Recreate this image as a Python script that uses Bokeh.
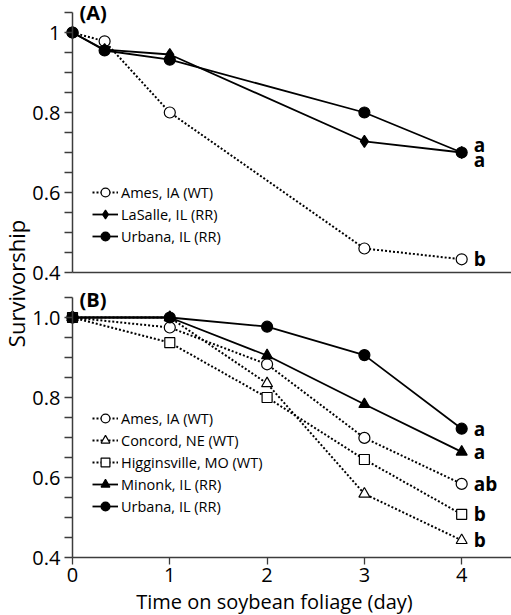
import math
from bokeh.plotting import figure
from bokeh.models import (Label, FixedTicker, Range1d, Legend, LegendItem,
                          PrintfTickFormatter, ColumnDataSource, LinearAxis)
from bokeh.embed import file_html
from bokeh.resources import INLINE
from bokeh.core.properties import value

# ---------------- data ----------------
days_a = [0, 0.33, 1, 3, 4]
ames_a = [1.0, 0.978, 0.80, 0.46, 0.433]
lasalle_a = [1.0, 0.957, 0.945, 0.728, 0.70]
urbana_a = [1.0, 0.955, 0.932, 0.80, 0.70]

days_b = [0, 1, 2, 3, 4]
ames_b = [1.0, 0.975, 0.883, 0.699, 0.584]
concord_b = [1.0, 1.0, 0.835, 0.559, 0.443]
higg_b = [1.0, 0.937, 0.80, 0.645, 0.508]
minonk_b = [1.0, 1.0, 0.905, 0.783, 0.664]
urbana_b = [1.0, 1.0, 0.977, 0.906, 0.722]

names_a = ["Ames, IA (WT)", "LaSalle, IL (RR)", "Urbana, IL (RR)"]
names_b = ["Ames, IA (WT)", "Concord, NE (WT)", "Higginsville, MO (WT)",
           "Minonk, IL (RR)", "Urbana, IL (RR)"]
letters_a = ["b", "a", "a"]
letters_b = ["ab", "b", "b", "a", "a"]

x_ticks = [0, 1, 2, 3, 4]
y_major_ticks = [0.4, 0.6, 0.8, 1.0]
y_minor_ticks = [0.45, 0.5, 0.55, 0.65, 0.7, 0.75, 0.85, 0.9, 0.95, 1.05]
x_title = "Time on soybean foliage (day)"
y_title = "Survivorship"

FONT = "Open Sans"
AX = "#3c3c3c"
# axis windows (both panels share the same scale; panel A stacked above B)
X_START, X_END = -0.740, 4.512
YB_START, YB_END = 0.255, 1.7925
YA_START, YA_END = -0.4575, 1.08
AXIS_LO, AXIS_HI = 0.4, 1.05
X_TITLE_CENTER = 2.076

p = figure(width=511, height=615, x_range=Range1d(X_START, X_END),
           y_range=Range1d(YB_START, YB_END), x_axis_type=None,
           y_axis_type=None, output_backend="svg", toolbar_location=None,
           min_border=0)
p.extra_y_ranges = {"A": Range1d(YA_START, YA_END)}
p.outline_line_color = None
p.xgrid.visible = False
p.ygrid.visible = False


def style_y(ax, fmt):
    ax.ticker = FixedTicker(ticks=y_major_ticks, minor_ticks=y_minor_ticks)
    ax.formatter = PrintfTickFormatter(format=fmt)
    ax.fixed_location = 0
    ax.bounds = (AXIS_LO, AXIS_HI)
    ax.major_tick_out = 8
    ax.major_tick_in = 0
    ax.minor_tick_out = 8
    ax.minor_tick_in = 0
    ax.axis_line_color = AX
    ax.axis_line_width = 1.5
    ax.major_tick_line_color = AX
    ax.minor_tick_line_color = AX
    ax.major_tick_line_width = 1.3
    ax.minor_tick_line_width = 1.3
    ax.major_label_text_font = FONT
    ax.major_label_text_font_size = "20px"
    ax.major_label_text_color = "black"
    ax.major_label_standoff = 4


def style_x(ax, show):
    ax.fixed_location = AXIS_LO
    ax.bounds = (0, X_END)
    ax.axis_line_color = AX
    ax.axis_line_width = 1.5
    ax.minor_tick_line_color = None
    if show:
        ax.ticker = FixedTicker(ticks=x_ticks)
        ax.major_tick_out = 7
        ax.major_tick_in = 0
        ax.major_tick_line_color = AX
        ax.major_tick_line_width = 1.3
        ax.major_label_text_font = FONT
        ax.major_label_text_font_size = "20px"
        ax.major_label_text_color = "black"
        ax.major_label_standoff = 3
    else:
        ax.ticker = FixedTicker(ticks=[])
        ax.major_tick_out = 0
        ax.major_label_text_font_size = "1px"


ya = LinearAxis(y_range_name="A")
style_y(ya, "%g")
p.add_layout(ya, "left")
yb = LinearAxis()
style_y(yb, "%.1f")
p.add_layout(yb, "left")
xa = LinearAxis(y_range_name="A")
style_x(xa, False)
p.add_layout(xa, "below")
xb = LinearAxis()
style_x(xb, True)
p.add_layout(xb, "below")


def series(x, y, marker, filled, dotted, size, rng="default"):
    dash = "2 2" if dotted else "solid"
    lr = p.line(x, y, line_color="black", line_width=2 if dotted else 1.8,
                line_dash=dash, y_range_name=rng)
    sr = p.scatter(x, y, marker=marker, size=size, line_color="black",
                   line_width=1.2, fill_color="black" if filled else "white",
                   y_range_name=rng)
    return [lr, sr]


def add_letters(xs, ys, letters, offsets, rng="default"):
    src = ColumnDataSource(dict(x=xs, y=ys, t=letters, dy=offsets))
    p.text(x="x", y="y", text="t", source=src, x_offset=12, y_offset="dy",
           text_font=value(FONT), text_font_style="bold",
           text_font_size="19px", text_baseline="middle", text_align="left",
           text_color="black", y_range_name=rng)


def add_legend(items, loc):
    lg = Legend(items=items, location=loc, orientation="vertical")
    lg.background_fill_alpha = 0
    lg.border_line_color = None
    lg.padding = 0
    lg.margin = 0
    lg.spacing = 0
    lg.glyph_width = 26
    lg.glyph_height = 22
    lg.label_height = 20
    lg.label_standoff = 3
    lg.label_text_font = FONT
    lg.label_text_font_size = "14.5px"
    lg.label_text_color = "black"
    lg.label_text_baseline = "middle"
    p.add_layout(lg)


# ---------------- panel A ----------------
ra1 = series(days_a, ames_a, "circle", False, True, 11, "A")
ra2 = series(days_a, lasalle_a, "diamond", True, False, 12, "A")
ra3 = series(days_a, urbana_a, "circle", True, False, 11, "A")
add_legend([LegendItem(label=names_a[0], renderers=ra1),
            LegendItem(label=names_a[1], renderers=ra2),
            LegendItem(label=names_a[2], renderers=ra3)], (92, 368))
add_letters([days_a[-1]] * 3, [ames_a[-1], lasalle_a[-1], urbana_a[-1]],
            letters_a, [0, 7.5, -7.5], "A")

# ---------------- panel B ----------------
rb1 = series(days_b, ames_b, "circle", False, True, 11)
rb2 = series(days_b, concord_b, "triangle", False, True, 11)
rb3 = series(days_b, higg_b, "square", False, True, 10)
rb4 = series(days_b, minonk_b, "triangle", True, False, 11)
rb5 = series(days_b, urbana_b, "circle", True, False, 11)
add_legend([LegendItem(label=names_b[i], renderers=r)
            for i, r in enumerate([rb1, rb2, rb3, rb4, rb5])], (92, 98))
add_letters([days_b[-1]] * 5,
            [ames_b[-1], concord_b[-1], higg_b[-1], minonk_b[-1], urbana_b[-1]],
            letters_b, [0, 0, 0, 0, 0])

for txt, ytop in (("(A)", 617), ("(B)", 330)):
    p.add_layout(Label(x=79, y=ytop, x_units="screen", y_units="screen",
                       text=txt, text_font=FONT, text_font_style="bold",
                       text_font_size="20px", text_baseline="top",
                       text_color="black"))

p.add_layout(Label(x=X_TITLE_CENTER, y=1, x_units="data", y_units="screen",
                   text=x_title, text_font=FONT, text_font_size="20px",
                   text_align="center", text_baseline="bottom",
                   text_color="black"))

p.add_layout(Label(x=0, y=332, x_units="screen", y_units="screen",
                   text=y_title, angle=math.pi / 2, text_font=FONT,
                   text_font_size="22px", text_align="center",
                   text_baseline="top", text_color="black"))

open("out.html", "w").write(file_html(p, INLINE))
